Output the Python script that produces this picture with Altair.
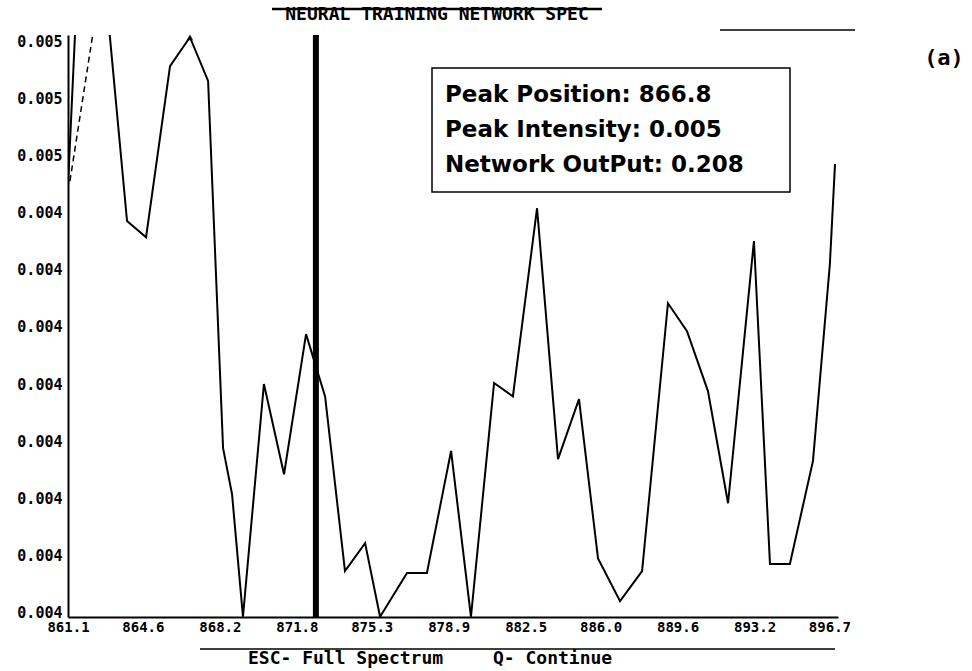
import altair as alt
import pandas as pd

# Spectrum trace: wavelength (x) and intensity (y)
wavelength = [861.10, 862.04, 862.97, 863.86, 864.75, 865.87, 866.80, 867.65, 868.35, 868.77,
              869.28, 870.26, 871.20, 872.23, 873.12, 874.05, 874.99, 875.69, 876.95, 877.88,
              879.01, 879.94, 881.02, 881.90, 883.03, 884.01, 884.99, 885.88, 886.91, 887.94,
              889.15, 890.04, 891.02, 891.96, 893.17, 893.92, 894.85, 895.93, 896.72, 896.96]
intensity = [0.004497, 0.005412, 0.004854, 0.004423, 0.004389, 0.004749, 0.004810, 0.004718, 0.003945, 0.003848,
             0.003590, 0.004080, 0.003890, 0.004185, 0.004054, 0.003686, 0.003745, 0.003590, 0.003682, 0.003682,
             0.003939, 0.003590, 0.004082, 0.004054, 0.004450, 0.003922, 0.004048, 0.003713, 0.003623, 0.003686,
             0.004250, 0.004191, 0.004065, 0.003829, 0.004381, 0.003701, 0.003701, 0.003918, 0.004332, 0.004543]

# Earlier (dashed) trace segment
prev_wavelength = [861.19, 862.60]
prev_intensity = [0.004507, 0.004915]

# Detected peak and network result
peak_position = 866.8
peak_intensity = 0.00481
network_output = 0.208

# Cursor position
cursor_x = 872.69

# Axis ticks
x_ticks = [861.1, 864.6, 868.2, 871.8, 875.3, 878.9, 882.5, 886.0, 889.6, 893.2, 896.7]
y_ticks = [0.0036, 0.00372, 0.00384, 0.00396, 0.00408, 0.0042, 0.00432, 0.00444, 0.00456, 0.00468, 0.0048]

x_domain = [861.1, 897.1]
y_domain = [0.0035895, 0.0048147]

title_text = "NEURAL TRAINING NETWORK  SPEC"
footer_left = "ESC- Full Spectrum"
footer_right = "Q- Continue"
panel_tag = "(a)"

MONO = "DejaVu Sans Mono"
SANS = "DejaVu Sans"

trace = pd.DataFrame({"wl": wavelength, "inten": intensity})
prev = pd.DataFrame({"wl": prev_wavelength, "inten": prev_intensity})
peak = pd.DataFrame({"wl": [peak_position], "inten": [peak_intensity]})
cursor = pd.DataFrame({"wl": [cursor_x]})
one = pd.DataFrame({"k": [0]})

x_enc = alt.X(
    "wl:Q",
    scale=alt.Scale(domain=x_domain, nice=False, zero=False),
    axis=alt.Axis(values=x_ticks, format=".1f", title=None, ticks=False, grid=False,
                  labelOverlap=False, labelFlush=False, labelPadding=3,
                  labelFont=MONO, labelFontWeight="bold", labelFontSize=14,
                  labelColor="black", domainColor="black", domainWidth=2),
)
y_enc = alt.Y(
    "inten:Q",
    scale=alt.Scale(domain=y_domain, nice=False, zero=False),
    axis=alt.Axis(values=y_ticks, format=".3f", title=None, ticks=False, grid=False,
                  labelOverlap=False, labelFlush=False, labelPadding=6,
                  labelFont=MONO, labelFontWeight="bold", labelFontSize=15,
                  labelColor="black", domainColor="black", domainWidth=2),
)

line = alt.Chart(trace).mark_line(color="black", strokeWidth=2, clip=True).encode(x=x_enc, y=y_enc)

prev_line = alt.Chart(prev).mark_line(color="black", strokeWidth=1.5, strokeDash=[6, 4], clip=True).encode(
    x=alt.X("wl:Q"), y=alt.Y("inten:Q")
)

peak_mark = alt.Chart(peak).mark_point(shape="triangle-up", filled=True, color="black", size=45, clip=True).encode(
    x=alt.X("wl:Q"), y=alt.Y("inten:Q")
)

cursor_rule = alt.Chart(cursor).mark_rule(color="black", strokeWidth=6).encode(x=alt.X("wl:Q"))

box = alt.Chart(one).mark_rect(fill="white", stroke="black", strokeWidth=1.5).encode(
    x=alt.value(364), x2=alt.value(722), y=alt.value(33), y2=alt.value(157)
)

def box_line(text, y):
    return alt.Chart(one).mark_text(
        align="left", baseline="alphabetic", font=SANS, fontWeight="bold", fontSize=23, color="black"
    ).encode(x=alt.value(377), y=alt.value(y), text=alt.value(text))

box_text = (
    box_line(f"Peak Position: {peak_position:.1f}", 67)
    + box_line(f"Peak Intensity: {peak_intensity:.3f}", 102)
    + box_line(f"Network OutPut: {network_output:.3f}", 137)
)

def label(text, x, y, size, align="left"):
    return alt.Chart(one).mark_text(
        align=align, baseline="middle", font=MONO, fontWeight="bold", fontSize=size, color="black"
    ).encode(x=alt.value(x), y=alt.value(y), text=alt.value(text))

title = label(title_text, 369, -20, 18, align="center")
footer = label(footer_left, 180, 624, 18) + label(footer_right, 425, 624, 18)
tag = label(panel_tag, 876, 23, 22, align="center")

title_bar = alt.Chart(one).mark_rule(color="black", strokeWidth=2.5).encode(
    x=alt.value(204), x2=alt.value(534), y=alt.value(-26)
)
top_right_bar = alt.Chart(one).mark_rule(color="black", strokeWidth=1.5).encode(
    x=alt.value(652), x2=alt.value(787), y=alt.value(-5)
)
footer_bar = alt.Chart(one).mark_rule(color="black", strokeWidth=1.5).encode(
    x=alt.value(132), x2=alt.value(767), y=alt.value(614)
)

chart = (
    alt.layer(line, prev_line, cursor_rule, peak_mark, box, box_text, title, title_bar,
              top_right_bar, footer, footer_bar, tag)
    .properties(
        width=770,
        height=582,
        autosize=alt.AutoSizeParams(type="none"),
        padding={"left": 68, "top": 35, "right": 134, "bottom": 54},
        background="white",
    )
    .configure_view(stroke=None)
)

chart.save("out.html", embed_options={"renderer": "svg", "actions": False})
